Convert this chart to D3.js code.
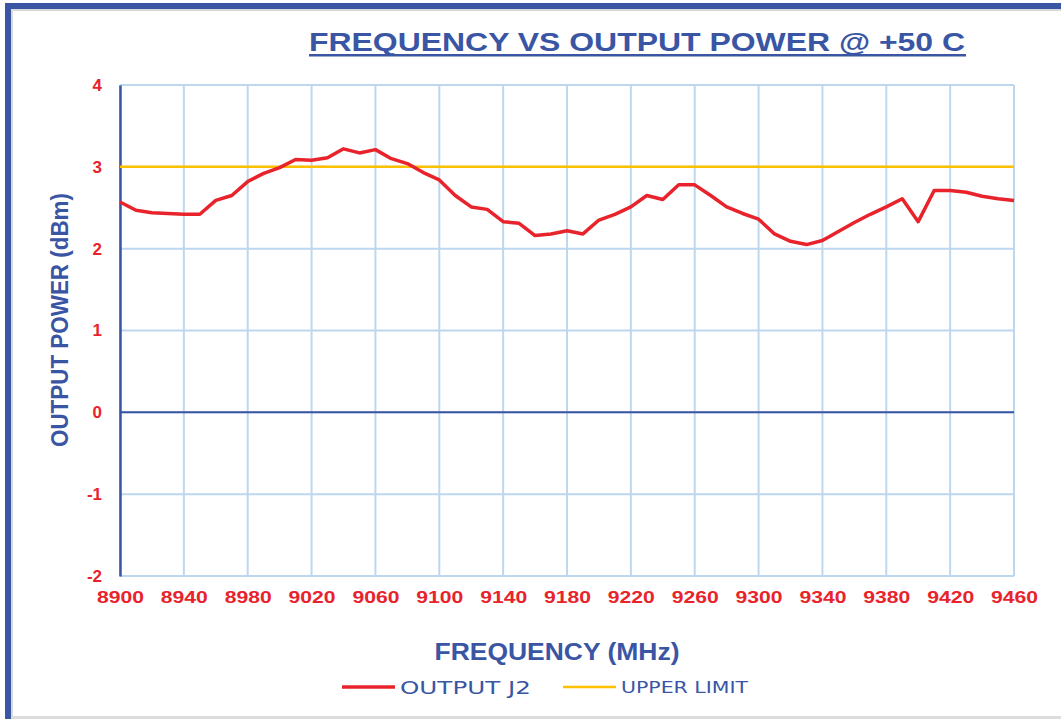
<!DOCTYPE html>
<html>
<head>
<meta charset="utf-8">
<script src="https://cdn.jsdelivr.net/npm/d3@7"></script>
<style>
html,body{margin:0;padding:0;background:#fff;}
svg{display:block;}
</style>
</head>
<body>
<svg id="chart" width="1061" height="719"></svg>
<script>
// ---- data ----
const frequencies = [8900,8910,8920,8930,8940,8950,8960,8970,8980,8990,9000,9010,9020,9030,9040,9050,9060,9070,9080,9090,9100,9110,9120,9130,9140,9150,9160,9170,9180,9190,9200,9210,9220,9230,9240,9250,9260,9270,9280,9290,9300,9310,9320,9330,9340,9350,9360,9370,9380,9390,9400,9410,9420,9430,9440,9450,9460];
const outputJ2 = [2.57,2.47,2.44,2.43,2.42,2.42,2.59,2.65,2.82,2.92,2.99,3.09,3.08,3.11,3.22,3.17,3.21,3.10,3.04,2.93,2.84,2.65,2.51,2.48,2.33,2.31,2.16,2.18,2.22,2.18,2.35,2.42,2.51,2.65,2.60,2.78,2.78,2.65,2.51,2.43,2.36,2.18,2.09,2.05,2.10,2.21,2.32,2.42,2.51,2.61,2.33,2.71,2.71,2.69,2.64,2.61,2.59];
const upperLimit = 3;
const xTicks = [8900,8940,8980,9020,9060,9100,9140,9180,9220,9260,9300,9340,9380,9420,9460];
const yTicks = [-2,-1,0,1,2,3,4];
const titleText = "FREQUENCY VS OUTPUT POWER @ +50 C";
const xTitle = "FREQUENCY  (MHz)";
const yTitle = "OUTPUT POWER  (dBm)";
const legendLabels = ["OUTPUT J2","UPPER LIMIT"];

// ---- drawing ----
const svg = d3.select("#chart");
const blue = "#3A55A4", red = "#E8232B", yellow = "#FFC000", grid = "#BDD7EE";
const font = "Liberation Sans, Arial, sans-serif";

// frame
svg.append("rect").attr("x",0).attr("y",0).attr("width",1061).attr("height",719).attr("fill","#fff");
svg.append("rect").attr("x",11).attr("y",9).attr("width",1050).attr("height",2).attr("fill","#d9d9d9");
svg.append("rect").attr("x",11).attr("y",9).attr("width",2).attr("height",710).attr("fill","#d9d9d9");
svg.append("rect").attr("x",11).attr("y",716).attr("width",1050).attr("height",3).attr("fill","#dcdcdc");
svg.append("rect").attr("x",5).attr("y",3).attr("width",1056).attr("height",6).attr("fill",blue);
svg.append("rect").attr("x",5).attr("y",3).attr("width",6).attr("height",716).attr("fill",blue);

const x = d3.scaleLinear().domain([8900,9460]).range([120,1014]);
const y = d3.scaleLinear().domain([-2,4]).range([576,85]);

// grid
const g = svg.append("g");
g.selectAll("line.vg").data(xTicks).join("line").attr("class","vg")
  .attr("x1",d=>x(d)).attr("x2",d=>x(d)).attr("y1",y(4)).attr("y2",y(-2))
  .attr("stroke",grid).attr("stroke-width",2);
g.selectAll("line.hg").data(yTicks).join("line").attr("class","hg")
  .attr("x1",x(8900)).attr("x2",x(9460)).attr("y1",d=>y(d)).attr("y2",d=>y(d))
  .attr("stroke",grid).attr("stroke-width",2);

// zero line
svg.append("line").attr("x1",x(8900)).attr("x2",x(9460)).attr("y1",y(0)).attr("y2",y(0))
  .attr("stroke",blue).attr("stroke-width",2);

// y axis
const yAxis = d3.axisLeft(y).tickValues(yTicks).tickSize(0).tickPadding(18).tickFormat(d=>String(d));
const ya = svg.append("g").attr("transform",`translate(${x(8900)},0)`).call(yAxis);
ya.select(".domain").attr("stroke",blue).attr("stroke-width",2.5);
ya.selectAll("text").attr("fill",red).attr("font-family",font)
  .attr("font-weight","bold").attr("font-size",17);

// x axis
const xAxis = d3.axisBottom(x).tickValues(xTicks).tickSize(0).tickPadding(15).tickFormat(d=>String(d));
const xa = svg.append("g").attr("transform",`translate(0,${y(-2)})`).call(xAxis);
xa.select(".domain").remove();
xa.selectAll("text").attr("fill",red).attr("font-family",font)
  .attr("font-weight","bold").attr("font-size",17)
  .attr("textLength",47).attr("lengthAdjust","spacingAndGlyphs");

// upper limit
svg.append("line").attr("x1",x(8900)).attr("x2",x(9460)).attr("y1",y(upperLimit)).attr("y2",y(upperLimit))
  .attr("stroke",yellow).attr("stroke-width",2.5);

// output line
const line = d3.line().x((d,i)=>x(frequencies[i])).y(d=>y(d));
svg.append("path").datum(outputJ2).attr("d",line).attr("fill","none")
  .attr("stroke",red).attr("stroke-width",3.5).attr("stroke-linejoin","round");

// title
svg.append("text").attr("x",637).attr("y",51).attr("text-anchor","middle")
  .attr("font-family",font).attr("font-weight","bold")
  .attr("font-size",26).attr("fill",blue).attr("textLength",656).attr("lengthAdjust","spacingAndGlyphs")
  .text(titleText);
svg.append("rect").attr("x",309).attr("y",54).attr("width",657).attr("height",2.5).attr("fill",blue);

// axis titles
svg.append("text").attr("x",557).attr("y",660).attr("text-anchor","middle")
  .attr("font-family",font).attr("font-weight","bold")
  .attr("font-size",23).attr("fill",blue).attr("textLength",245).attr("lengthAdjust","spacingAndGlyphs")
  .text(xTitle);
svg.append("text").attr("transform","translate(68,320) rotate(-90)").attr("text-anchor","middle")
  .attr("font-family",font).attr("font-weight","bold")
  .attr("font-size",23).attr("fill",blue).attr("textLength",254).attr("lengthAdjust","spacingAndGlyphs")
  .text(yTitle);

// legend
svg.append("line").attr("x1",342).attr("x2",395).attr("y1",687).attr("y2",687).attr("stroke",red).attr("stroke-width",3.5);
svg.append("text").attr("x",400).attr("y",694).attr("font-family","DejaVu Sans, sans-serif")
  .attr("font-size",18).attr("fill",blue).attr("textLength",131).attr("lengthAdjust","spacingAndGlyphs").text(legendLabels[0]);
svg.append("line").attr("x1",563).attr("x2",616).attr("y1",687).attr("y2",687).attr("stroke",yellow).attr("stroke-width",2.5);
svg.append("text").attr("x",621).attr("y",693).attr("font-family","DejaVu Sans, sans-serif")
  .attr("font-size",16).attr("fill",blue).attr("textLength",127).attr("lengthAdjust","spacingAndGlyphs").text(legendLabels[1]);
</script>
</body>
</html>
